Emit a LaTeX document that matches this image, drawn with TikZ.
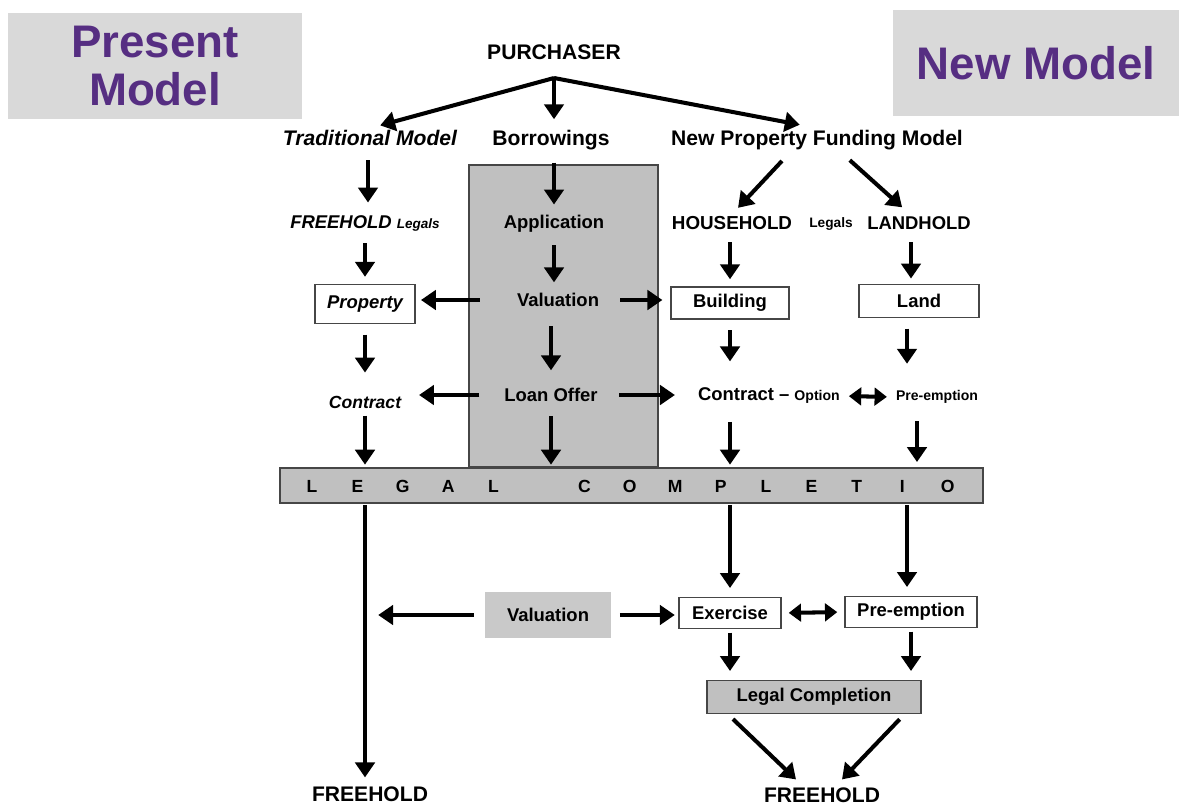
\documentclass[tikz,border=0pt]{standalone}
\usepackage{fontspec}
\setmainfont{Liberation Sans}
\usetikzlibrary{arrows.meta, positioning, calc}
\definecolor{titlepurple}{RGB}{86,46,130}
\definecolor{headgray}{RGB}{217,217,217}
\definecolor{boxgray}{RGB}{192,192,192}
\definecolor{edgegray}{RGB}{70,70,70}

\begin{document}
\begin{tikzpicture}[x=0.02cm, y=-0.02cm,
    big/.style={font=\bfseries\fontsize{12}{14}\selectfont, inner sep=1pt},
    lbl/.style={font=\bfseries\fontsize{10.5}{12}\selectfont, inner sep=1pt},
    small/.style={font=\bfseries\fontsize{7.8}{9}\selectfont, inner sep=1pt},
    title/.style={fill=headgray, text=titlepurple, align=center,
      font=\bfseries\fontsize{26}{27}\selectfont, minimum height=2.14cm},
    wbox/.style={lbl, draw=edgegray, line width=0.8pt, fill=white},
    gbox/.style={lbl, draw=edgegray, line width=0.8pt, fill=boxgray},
    flow/.style={line width=2.3pt, -{Triangle[length=8.5pt,width=11pt]},
      shorten <=6pt, shorten >=5pt},
    both/.style={line width=2.3pt,
      {Triangle[length=7pt,width=10pt]}-{Triangle[length=7pt,width=10pt]},
      shorten <=4pt, shorten >=4pt},
  ]
  \useasboundingbox (0,0) rectangle (1179,805);

  % Headings
  \node[title, minimum width=5.88cm] (present) at (155,66) {Present\\Model};
  \node[title, minimum width=5.72cm] (newmod) at (1036,63) {New Model};

  % Top of the tree
  \node[big] (purch) at (554,52) {PURCHASER};
  \coordinate (split) at (554,78);
  \node[big, font=\bfseries\itshape\fontsize{12}{14}\selectfont] (trad) at (370,138) {Traditional Model};
  \node[big] (borrow) at (551,140) {Borrowings};
  \node[big] (npfm) at (817,140) {New Property Funding Model};

  \draw[flow, shorten <=0pt, shorten >=6pt] (split) -- (trad.north);
  \draw[flow, shorten <=0pt, shorten >=5pt] (split) -- (borrow.north -| split);
  \draw[flow, shorten <=0pt, shorten >=10pt] (split) -- (npfm.north);

  % Lender column
  \node[draw=edgegray, line width=0.8pt, fill=boxgray, minimum width=3.78cm,
    minimum height=6.04cm] (loanbox) at (563.5,316) {};
  \node[lbl] (appl) at (554,224) {Application};
  \node[lbl] (valu) at (558,300) {Valuation};
  \node[lbl] (loan) at (551,395) {Loan Offer};

  \draw[flow, shorten <=6pt] (borrow.south -| appl) -- (appl.north);
  \draw[flow] (appl.south) -- (appl |- valu.north);
  \draw[flow, shorten <=10pt, shorten >=9pt] (loan |- valu.south) -- (loan.north);

  % Present model
  \node[lbl, font=\bfseries\itshape\fontsize{10.5}{12}\selectfont] (fhleg) at (365,223)
    {FREEHOLD {\fontsize{7.7}{9}\selectfont Legals}};
  \node[wbox, font=\bfseries\itshape\fontsize{10.5}{12}\selectfont,
    minimum width=2cm, minimum height=0.78cm] (prop) at (365,304) {Property};
  \node[lbl, font=\bfseries\itshape\fontsize{10}{12}\selectfont] (contract) at (365,402) {Contract};

  \draw[flow, shorten <=7pt, shorten >=6pt] (trad.south -| 368,0) -- (fhleg.north -| 368,0);
  \draw[flow, shorten <=6pt, shorten >=4pt] (fhleg.south -| prop) -- (prop.north);
  \draw[flow, shorten <=6pt, shorten >=12pt] (prop.south) -- (contract.north);

  \draw[flow, shorten <=20pt, shorten >=3pt] (valu.west) -- (valu.west -| prop.east);
  \draw[flow, shorten <=13pt, shorten >=9pt] (loan.west) -- (loan.west -| contract.east);

  % New model
  \node[lbl, font=\bfseries\fontsize{10.7}{12}\selectfont] (hh) at (732,223) {HOUSEHOLD};
  \node[small] (legr) at (831,224) {Legals};
  \node[lbl] (lh) at (919,223) {LANDHOLD};
  \node[wbox, minimum width=2.36cm, minimum height=0.64cm] (build) at (730,303) {Building};
  \node[wbox, minimum width=2.4cm, minimum height=0.66cm] (land) at (919,301) {Land};
  \node[lbl, anchor=west] (crow) at (696,396)
    {Contract -- {\fontsize{8}{9}\selectfont Option}};
  \node[small, font=\bfseries\fontsize{8}{9}\selectfont] (prer) at (937,397) {Pre-emption};

  \draw[flow, shorten <=7pt, shorten >=5pt]
    ($(npfm.south west)!0.41!(npfm.south east)$) -- (hh.north);
  \draw[flow, shorten <=7pt, shorten >=6pt]
    ($(npfm.south west)!0.58!(npfm.south east)$) -- (lh.north -| 910,0);
  \draw[flow, shorten <=6pt, shorten >=4pt] (build |- hh.south) -- (build.north);
  \draw[flow, shorten <=6pt, shorten >=3pt] (lh.south -| 911,0) -- (land.north -| 911,0);
  \draw[flow, shorten <=6pt, shorten >=14pt] (build.south) -- (build |- crow.north);
  \draw[flow, shorten <=6pt, shorten >=14pt] (land.south -| 907,0) -- (prer.north -| 907,0);

  \draw[flow, shorten <=11pt, shorten >=4.5pt] (valu.east) -- (valu.east -| build.west);
  \draw[flow, shorten <=11pt, shorten >=12pt] (loan.east) -- (loan.east -| crow.west);
  \draw[both] (crow.east) -- (prer.west);

  % Legal completion bar
  \node[draw=edgegray, line width=0.8pt, fill=boxgray, minimum width=14.06cm,
    minimum height=0.7cm] (legal) at (631.5,485.5) {};
  \foreach \ch [count=\i] in {L,E,G,A,L,,C,O,M,P,L,E,T,I,O}
    \node[small, font=\bfseries\fontsize{10}{11}\selectfont] (bar\i) at (312+45.4*\i-45.4,486) {\ch};

  \draw[flow, shorten <=3pt, shorten >=1.5pt] (contract.south) -- (contract |- legal.north);
  \draw[flow, shorten <=7pt, shorten >=1.5pt] (loan.south) -- (loan |- legal.north);
  \draw[flow, shorten <=9pt, shorten >=1.5pt] (build |- crow.south) -- (build |- legal.north);
  \draw[flow, shorten <=9pt, shorten >=3pt] (prer.south -| 917,0) -- (legal.north -| 917,0);

  % After completion
  \node[big] (fhl) at (370,794) {FREEHOLD};
  \node[lbl, fill=boxgray!85!white, minimum width=2.54cm, minimum height=0.92cm] (vbot) at (548,615) {Valuation};
  \node[wbox, minimum width=2.04cm, minimum height=0.62cm] (exer) at (730,613) {Exercise};
  \node[wbox, minimum width=2.64cm, minimum height=0.62cm] (preb) at (911,612) {Pre-emption};
  \node[gbox, minimum width=4.28cm, minimum height=0.66cm] (lc) at (814,697) {Legal Completion};
  \node[big] (fhr) at (822,795) {FREEHOLD};

  \draw[flow, shorten <=1pt, shorten >=4pt] (contract |- legal.south) -- (contract |- fhl.north);
  \draw[flow, shorten <=1pt, shorten >=5pt] (exer |- legal.south) -- (exer.north);
  \draw[flow, shorten <=1pt, shorten >=5pt] (legal.south -| 907,0) -- (preb.north -| 907,0);
  \draw[flow, shorten <=6pt, shorten >=7.5pt] (vbot.west) -- (vbot.west -| contract);
  \draw[flow, shorten <=4.5pt, shorten >=2pt] (vbot.east) -- (vbot.east -| exer.west);
  \draw[both] (exer.east) -- (preb.west);
  \draw[flow, shorten <=2pt, shorten >=5pt] (exer.south) -- (exer |- lc.north);
  \draw[flow, shorten <=2pt, shorten >=5pt] (preb.south) -- (preb |- lc.north);
  \draw[flow, shorten <=4pt, shorten >=0pt]
    ($(lc.south west)!0.1!(lc.south east)$) -- ($(fhr.north)+(-26,-6)$);
  \draw[flow, shorten <=4pt, shorten >=0pt]
    ($(lc.south west)!0.92!(lc.south east)$) -- ($(fhr.north)+(20,-6)$);
\end{tikzpicture}
\end{document}
